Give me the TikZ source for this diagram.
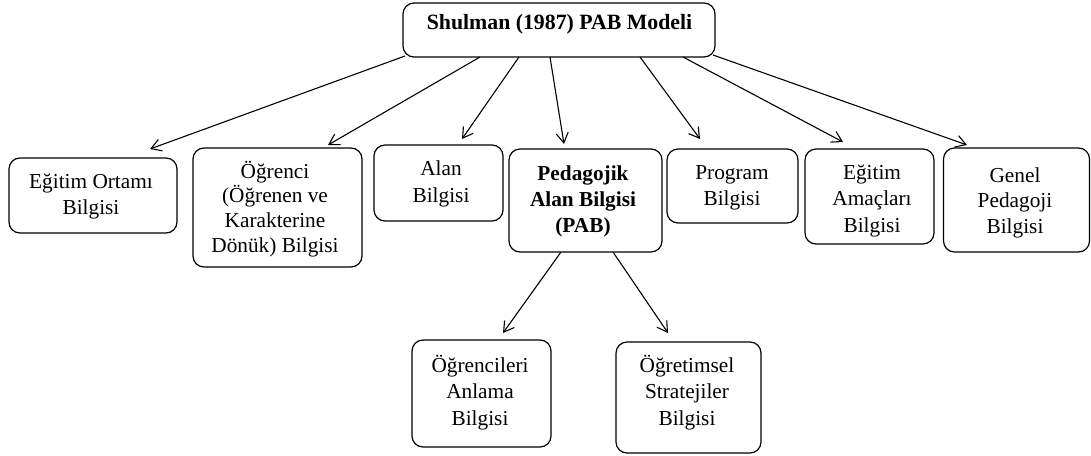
\documentclass[tikz,border=0pt]{standalone}
\usepackage{fontspec}
\setmainfont{Liberation Serif}
\usetikzlibrary{arrows.meta}
\newcommand{\ts}{\rule{0pt}{20pt}}
\begin{document}
\begin{tikzpicture}[x=1pt,y=-1pt,
  box/.style={draw, line width=1.2pt, rounded corners=11pt, inner sep=0pt, outer sep=0pt},
  lbl/.style={anchor=north, inner sep=0pt, align=center, font=\fontsize{21.3}{26}\selectfont},
  arr/.style={line width=1.1pt, -{Straight Barb[length=10pt,width=12pt,line width=1.1pt]}}]
\useasboundingbox (0,0) rectangle (1091,455);
% boxes: centre, width, height
\node[box, minimum width=312pt, minimum height=54pt] (top) at (559,30) {};
\node[box, minimum width=168pt, minimum height=75pt] (eo) at (93,195.5) {};
\node[box, minimum width=169pt, minimum height=119pt] (og) at (277.5,207.5) {};
\node[box, minimum width=129pt, minimum height=76pt] (al) at (438.5,183) {};
\node[box, minimum width=153pt, minimum height=103pt] (pab) at (585.5,200.5) {};
\node[box, minimum width=131pt, minimum height=74pt] (pr) at (732.5,186) {};
\node[box, minimum width=129pt, minimum height=95pt] (ea) at (869.5,196.5) {};
\node[box, minimum width=146pt, minimum height=104pt] (gp) at (1016.5,200) {};
\node[box, minimum width=139pt, minimum height=107pt] (oa) at (481.5,393.5) {};
\node[box, minimum width=145pt, minimum height=111pt] (os) at (688.5,397.5) {};
% labels (first baseline sits 20pt below the anchor)
\node[lbl, font=\fontsize{21.8}{26}\selectfont\bfseries] (top-t) at (559.5,9) {\ts Shulman (1987) PAB Modeli};
\node[lbl] (eo-t) at (91,168) {\ts Eğitim Ortamı\\Bilgisi};
\node[lbl, font=\fontsize{21.3}{24.7}\selectfont] (og-t) at (275,158) {\ts Öğrenci\\(Öğrenen ve\\Karakterine\\Dönük) Bilgisi};
\node[lbl, font=\fontsize{21.3}{27}\selectfont] (al-t) at (441,155) {\ts Alan\\Bilgisi};
\node[lbl, font=\fontsize{21.3}{26}\selectfont\bfseries] (pab-t) at (583,160) {\ts Pedagojik\\Alan Bilgisi\\(PAB)};
\node[lbl] (pr-t) at (732,159) {\ts Program\\Bilgisi};
\node[lbl, font=\fontsize{21.3}{26.5}\selectfont] (ea-t) at (872,159) {\ts Eğitim\\Amaçları\\Bilgisi};
\node[lbl, font=\fontsize{21.3}{25.5}\selectfont] (gp-t) at (1015,162) {\ts Genel\\Pedagoji\\Bilgisi};
\node[lbl, font=\fontsize{21.3}{26.5}\selectfont] (oa-t) at (480,352) {\ts Öğrencileri\\Anlama\\Bilgisi};
\node[lbl, font=\fontsize{21.3}{26.5}\selectfont] (os-t) at (687,352) {\ts Öğretimsel\\Stratejiler\\Bilgisi};
% connectors from the model to its components
\draw[arr] ([xshift=2pt,yshift=1pt]top.south west) -- ([xshift=57pt,yshift=9pt]eo.north);
\draw[arr] ([xshift=77pt]top.south west) -- ([xshift=50.5pt,yshift=3pt]og.north);
\draw[arr] ([xshift=116pt]top.south west) -- ([xshift=23.5pt,yshift=6pt]al.north);
\draw[arr] ([xshift=147pt]top.south west) -- ([xshift=-21.5pt,yshift=5pt]pab.north);
\draw[arr] ([xshift=237pt]top.south west) -- ([xshift=-32.5pt,yshift=10pt]pr.north);
\draw[arr] ([xshift=280pt]top.south west) -- ([xshift=-26.5pt,yshift=7pt]ea.north);
\draw[arr] ([xshift=-2pt,yshift=2pt]top.south east) -- ([xshift=-49.5pt,yshift=3pt]gp.north);
% PAB sub-components
\draw[arr] ([xshift=-24.5pt]pab.south) -- ([xshift=21.5pt,yshift=7pt]oa.north);
\draw[arr] ([xshift=27.5pt]pab.south) -- ([xshift=-20.5pt,yshift=9pt]os.north);
\end{tikzpicture}
\end{document}
